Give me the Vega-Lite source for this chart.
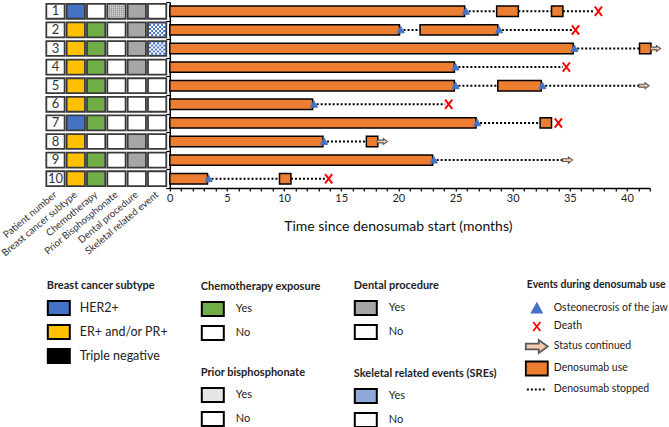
{
  "$schema": "https://vega.github.io/schema/vega-lite/v6.json",
  "padding": {"left": -1.7, "top": 1, "right": 0, "bottom": 0},
  "bounds": "flush",
  "spacing": 2.5,
  "config": {
    "font": "Lato",
    "view": {"stroke": null},
    "legend": {
      "direction": "vertical",
      "orient": "none",
      "symbolType": "M-1,-0.64H1V0.64H-1Z",
      "symbolSize": 484,
      "symbolStrokeColor": "black",
      "symbolStrokeWidth": 2,
      "titleFontSize": 11,
      "titleFontWeight": "bold",
      "titleColor": "#222",
      "titlePadding": 5,
      "labelFontSize": 11,
      "labelColor": "#222",
      "labelOffset": 11,
      "rowPadding": 0,
      "padding": 0,
      "labelLimit": 300
    }
  },
  "datasets": {
    "table": [
      {"patient": 1, "column": "Patient number", "value": "1"},
      {"patient": 2, "column": "Patient number", "value": "2"},
      {"patient": 3, "column": "Patient number", "value": "3"},
      {"patient": 4, "column": "Patient number", "value": "4"},
      {"patient": 5, "column": "Patient number", "value": "5"},
      {"patient": 6, "column": "Patient number", "value": "6"},
      {"patient": 7, "column": "Patient number", "value": "7"},
      {"patient": 8, "column": "Patient number", "value": "8"},
      {"patient": 9, "column": "Patient number", "value": "9"},
      {"patient": 10, "column": "Patient number", "value": "10"},
      {"patient": 1, "column": "Breast cancer subtype", "value": "HER2+"},
      {"patient": 2, "column": "Breast cancer subtype", "value": "ER+ and/or PR+"},
      {"patient": 3, "column": "Breast cancer subtype", "value": "ER+ and/or PR+"},
      {"patient": 4, "column": "Breast cancer subtype", "value": "ER+ and/or PR+"},
      {"patient": 5, "column": "Breast cancer subtype", "value": "ER+ and/or PR+"},
      {"patient": 6, "column": "Breast cancer subtype", "value": "ER+ and/or PR+"},
      {"patient": 7, "column": "Breast cancer subtype", "value": "HER2+"},
      {"patient": 8, "column": "Breast cancer subtype", "value": "ER+ and/or PR+"},
      {"patient": 9, "column": "Breast cancer subtype", "value": "ER+ and/or PR+"},
      {"patient": 10, "column": "Breast cancer subtype", "value": "ER+ and/or PR+"},
      {"patient": 1, "column": "Chemotherapy", "value": "No"},
      {"patient": 2, "column": "Chemotherapy", "value": "Yes"},
      {"patient": 3, "column": "Chemotherapy", "value": "Yes"},
      {"patient": 4, "column": "Chemotherapy", "value": "Yes"},
      {"patient": 5, "column": "Chemotherapy", "value": "Yes"},
      {"patient": 6, "column": "Chemotherapy", "value": "Yes"},
      {"patient": 7, "column": "Chemotherapy", "value": "Yes"},
      {"patient": 8, "column": "Chemotherapy", "value": "No"},
      {"patient": 9, "column": "Chemotherapy", "value": "Yes"},
      {"patient": 10, "column": "Chemotherapy", "value": "Yes"},
      {"patient": 1, "column": "Prior Bisphosphonate", "value": "Yes"},
      {"patient": 2, "column": "Prior Bisphosphonate", "value": "No"},
      {"patient": 3, "column": "Prior Bisphosphonate", "value": "No"},
      {"patient": 4, "column": "Prior Bisphosphonate", "value": "No"},
      {"patient": 5, "column": "Prior Bisphosphonate", "value": "No"},
      {"patient": 6, "column": "Prior Bisphosphonate", "value": "No"},
      {"patient": 7, "column": "Prior Bisphosphonate", "value": "No"},
      {"patient": 8, "column": "Prior Bisphosphonate", "value": "No"},
      {"patient": 9, "column": "Prior Bisphosphonate", "value": "No"},
      {"patient": 10, "column": "Prior Bisphosphonate", "value": "No"},
      {"patient": 1, "column": "Dental procedure", "value": "Yes"},
      {"patient": 2, "column": "Dental procedure", "value": "Yes"},
      {"patient": 3, "column": "Dental procedure", "value": "Yes"},
      {"patient": 4, "column": "Dental procedure", "value": "Yes"},
      {"patient": 5, "column": "Dental procedure", "value": "No"},
      {"patient": 6, "column": "Dental procedure", "value": "No"},
      {"patient": 7, "column": "Dental procedure", "value": "No"},
      {"patient": 8, "column": "Dental procedure", "value": "Yes"},
      {"patient": 9, "column": "Dental procedure", "value": "Yes"},
      {"patient": 10, "column": "Dental procedure", "value": "No"},
      {"patient": 1, "column": "Skeletal related event", "value": "No"},
      {"patient": 2, "column": "Skeletal related event", "value": "Yes"},
      {"patient": 3, "column": "Skeletal related event", "value": "Yes"},
      {"patient": 4, "column": "Skeletal related event", "value": "No"},
      {"patient": 5, "column": "Skeletal related event", "value": "No"},
      {"patient": 6, "column": "Skeletal related event", "value": "No"},
      {"patient": 7, "column": "Skeletal related event", "value": "No"},
      {"patient": 8, "column": "Skeletal related event", "value": "No"},
      {"patient": 9, "column": "Skeletal related event", "value": "No"},
      {"patient": 10, "column": "Skeletal related event", "value": "No"}
    ],
    "use": [
      {"patient": 1, "start": 0, "end": 25.8},
      {"patient": 1, "start": 28.6, "end": 30.5},
      {"patient": 1, "start": 33.4, "end": 34.4},
      {"patient": 2, "start": 0, "end": 20.1},
      {"patient": 2, "start": 21.9, "end": 28.7},
      {"patient": 3, "start": 0, "end": 35.3},
      {"patient": 3, "start": 41.1, "end": 42.1},
      {"patient": 4, "start": 0, "end": 24.9},
      {"patient": 5, "start": 0, "end": 24.9},
      {"patient": 5, "start": 28.7, "end": 32.5},
      {"patient": 6, "start": 0, "end": 12.5},
      {"patient": 7, "start": 0, "end": 26.8},
      {"patient": 7, "start": 32.4, "end": 33.4},
      {"patient": 8, "start": 0, "end": 13.4},
      {"patient": 8, "start": 17.2, "end": 18.2},
      {"patient": 9, "start": 0, "end": 23.0},
      {"patient": 10, "start": 0, "end": 3.3},
      {"patient": 10, "start": 9.6, "end": 10.6}
    ],
    "stopped": [
      {"patient": 1, "start": 25.8, "end": 28.6},
      {"patient": 1, "start": 30.5, "end": 33.4},
      {"patient": 1, "start": 34.4, "end": 37.2},
      {"patient": 2, "start": 20.1, "end": 21.9},
      {"patient": 2, "start": 28.7, "end": 35.2},
      {"patient": 3, "start": 35.3, "end": 41.1},
      {"patient": 4, "start": 24.9, "end": 34.4},
      {"patient": 5, "start": 24.9, "end": 28.7},
      {"patient": 5, "start": 32.5, "end": 41.1},
      {"patient": 6, "start": 12.5, "end": 24.1},
      {"patient": 7, "start": 26.8, "end": 32.4},
      {"patient": 8, "start": 13.4, "end": 17.2},
      {"patient": 9, "start": 23.0, "end": 34.4},
      {"patient": 10, "start": 3.3, "end": 9.6},
      {"patient": 10, "start": 10.6, "end": 13.6}
    ],
    "events": [
      {"patient": 1, "time": 25.9, "event": "Osteonecrosis of the jaw"},
      {"patient": 2, "time": 20.2, "event": "Osteonecrosis of the jaw"},
      {"patient": 2, "time": 28.8, "event": "Osteonecrosis of the jaw"},
      {"patient": 3, "time": 35.4, "event": "Osteonecrosis of the jaw"},
      {"patient": 4, "time": 25.0, "event": "Osteonecrosis of the jaw"},
      {"patient": 5, "time": 25.0, "event": "Osteonecrosis of the jaw"},
      {"patient": 5, "time": 32.6, "event": "Osteonecrosis of the jaw"},
      {"patient": 6, "time": 12.6, "event": "Osteonecrosis of the jaw"},
      {"patient": 7, "time": 26.9, "event": "Osteonecrosis of the jaw"},
      {"patient": 8, "time": 13.5, "event": "Osteonecrosis of the jaw"},
      {"patient": 9, "time": 23.1, "event": "Osteonecrosis of the jaw"},
      {"patient": 10, "time": 3.4, "event": "Osteonecrosis of the jaw"},
      {"patient": 1, "time": 37.5, "event": "Death"},
      {"patient": 2, "time": 35.5, "event": "Death"},
      {"patient": 4, "time": 34.7, "event": "Death"},
      {"patient": 6, "time": 24.4, "event": "Death"},
      {"patient": 7, "time": 34.0, "event": "Death"},
      {"patient": 10, "time": 13.9, "event": "Death"},
      {"patient": 3, "time": 42.5, "event": "Status continued"},
      {"patient": 5, "time": 41.5, "event": "Status continued"},
      {"patient": 8, "time": 18.6, "event": "Status continued"},
      {"patient": 9, "time": 34.8, "event": "Status continued"}
    ]
  },
  "hconcat": [
    {
      "width": 122,
      "height": 186,
      "data": {"name": "table"},
      "encoding": {
        "x": {
          "field": "column", "type": "nominal",
          "scale": {"domain": ["Patient number", "Breast cancer subtype", "Chemotherapy", "Prior Bisphosphonate", "Dental procedure", "Skeletal related event"], "paddingInner": 0.1, "paddingOuter": 0.05},
          "axis": {"orient": "bottom", "title": null, "domain": false, "ticks": false, "labelAngle": -40, "labelAlign": "right", "labelBaseline": "middle", "labelPadding": 5, "labelFontSize": 9.8, "labelColor": "#333", "labelOverlap": false}
        },
        "y": {"field": "patient", "type": "ordinal", "scale": {"paddingInner": 0.2, "paddingOuter": 0.1}, "axis": null}
      },
      "layer": [
        {
          "transform": [{"filter": "datum.column === 'Patient number'"}],
          "mark": {"type": "rect", "fill": "white", "stroke": "#3a3a3a", "strokeWidth": 1.8}
        },
        {
          "transform": [{"filter": "datum.column === 'Patient number'"}],
          "mark": {"type": "text", "fontSize": 13, "color": "#333"},
          "encoding": {"text": {"field": "value"}}
        },
        {
          "transform": [{"filter": "datum.column === 'Breast cancer subtype'"}],
          "mark": {"type": "rect", "stroke": "#3a3a3a", "strokeWidth": 1.8},
          "encoding": {"fill": {"field": "value", "type": "nominal",
            "scale": {"domain": ["HER2+", "ER+ and/or PR+", "Triple negative"], "range": ["#4472C4", "#FFC000", "#000000"]},
            "legend": {"title": "Breast cancer subtype", "legendX": 1.5, "legendY": 278, "labelFontSize": 12.5, "labelOffset": 9}}}
        },
        {
          "transform": [{"filter": "datum.column === 'Chemotherapy'"}],
          "mark": {"type": "rect", "stroke": "#3a3a3a", "strokeWidth": 1.8},
          "encoding": {"fill": {"field": "value", "type": "nominal",
            "scale": {"domain": ["Yes", "No"], "range": ["#70AD47", "#FFFFFF"]},
            "legend": {"title": "Chemotherapy exposure", "legendX": 155.5, "legendY": 279}}}
        },
        {
          "transform": [{"filter": "datum.column === 'Prior Bisphosphonate'"}],
          "mark": {"type": "rect", "stroke": "#3a3a3a", "strokeWidth": 1.8},
          "encoding": {"fill": {"field": "value", "type": "nominal",
            "scale": {"domain": ["Yes", "No"], "range": ["#E6E6E6", "#FFFFFF"]},
            "legend": {"title": "Prior bisphosphonate", "legendX": 155.5, "legendY": 365}}}
        },
        {
          "transform": [{"filter": "datum.column === 'Prior Bisphosphonate' && datum.value === 'Yes'"}],
          "mark": {"type": "point", "filled": false, "stroke": "#8c8c8c", "strokeWidth": 0.6, "size": 256, "opacity": 1,
            "shape": "M-0.875,-0.8V0.8M-0.625,-0.8V0.8M-0.375,-0.8V0.8M-0.125,-0.8V0.8M0.125,-0.8V0.8M0.375,-0.8V0.8M0.625,-0.8V0.8M0.875,-0.8V0.8M-1,-0.625H1M-1,-0.375H1M-1,-0.125H1M-1,0.125H1M-1,0.375H1M-1,0.625H1"}
        },
        {
          "transform": [{"filter": "datum.column === 'Dental procedure'"}],
          "mark": {"type": "rect", "stroke": "#3a3a3a", "strokeWidth": 1.8},
          "encoding": {"fill": {"field": "value", "type": "nominal",
            "scale": {"domain": ["Yes", "No"], "range": ["#A6A6A6", "#FFFFFF"]},
            "legend": {"title": "Dental procedure", "legendX": 308.5, "legendY": 278}}}
        },
        {
          "transform": [{"filter": "datum.column === 'Skeletal related event'"}],
          "mark": {"type": "rect", "stroke": "#3a3a3a", "strokeWidth": 1.8},
          "encoding": {"fill": {"field": "value", "type": "nominal",
            "scale": {"domain": ["Yes", "No"], "range": ["#8FA9DC", "#FFFFFF"]},
            "legend": {"title": "Skeletal related events (SREs)", "legendX": 308.5, "legendY": 366}}}
        },
        {
          "transform": [{"filter": "datum.column === 'Skeletal related event' && datum.value === 'Yes'"}],
          "mark": {"type": "point", "filled": true, "fill": "#4472C4", "strokeWidth": 0, "size": 256, "opacity": 1,
            "shape": "M-1,-0.75h0.25v0.25h-0.25zM-0.5,-0.75h0.25v0.25h-0.25zM0,-0.75h0.25v0.25h-0.25zM0.5,-0.75h0.25v0.25h-0.25zM-0.75,-0.5h0.25v0.25h-0.25zM-0.25,-0.5h0.25v0.25h-0.25zM0.25,-0.5h0.25v0.25h-0.25zM0.75,-0.5h0.25v0.25h-0.25zM-1,-0.25h0.25v0.25h-0.25zM-0.5,-0.25h0.25v0.25h-0.25zM0,-0.25h0.25v0.25h-0.25zM0.5,-0.25h0.25v0.25h-0.25zM-0.75,0h0.25v0.25h-0.25zM-0.25,0h0.25v0.25h-0.25zM0.25,0h0.25v0.25h-0.25zM0.75,0h0.25v0.25h-0.25zM-1,0.25h0.25v0.25h-0.25zM-0.5,0.25h0.25v0.25h-0.25zM0,0.25h0.25v0.25h-0.25zM0.5,0.25h0.25v0.25h-0.25zM-0.75,0.5h0.25v0.25h-0.25zM-0.25,0.5h0.25v0.25h-0.25zM0.25,0.5h0.25v0.25h-0.25zM0.75,0.5h0.25v0.25h-0.25z"}
        },
        {
          "transform": [{"filter": "datum.column === 'Skeletal related event' && datum.value === 'Yes'"}],
          "mark": {"type": "point", "filled": true, "fill": "#FFFFFF", "strokeWidth": 0, "size": 256, "opacity": 1,
            "shape": "M-0.75,-0.75h0.25v0.25h-0.25zM-0.25,-0.75h0.25v0.25h-0.25zM0.25,-0.75h0.25v0.25h-0.25zM0.75,-0.75h0.25v0.25h-0.25zM-1,-0.5h0.25v0.25h-0.25zM-0.5,-0.5h0.25v0.25h-0.25zM0,-0.5h0.25v0.25h-0.25zM0.5,-0.5h0.25v0.25h-0.25zM-0.75,-0.25h0.25v0.25h-0.25zM-0.25,-0.25h0.25v0.25h-0.25zM0.25,-0.25h0.25v0.25h-0.25zM0.75,-0.25h0.25v0.25h-0.25zM-1,0h0.25v0.25h-0.25zM-0.5,0h0.25v0.25h-0.25zM0,0h0.25v0.25h-0.25zM0.5,0h0.25v0.25h-0.25zM-0.75,0.25h0.25v0.25h-0.25zM-0.25,0.25h0.25v0.25h-0.25zM0.25,0.25h0.25v0.25h-0.25zM0.75,0.25h0.25v0.25h-0.25zM-1,0.5h0.25v0.25h-0.25zM-0.5,0.5h0.25v0.25h-0.25zM0,0.5h0.25v0.25h-0.25zM0.5,0.5h0.25v0.25h-0.25z"}
        }
      ],
      "resolve": {"scale": {"fill": "independent"}, "legend": {"fill": "independent"}}
    },
    {
      "width": 480,
      "height": 186,
      "encoding": {
        "y": {"field": "patient", "type": "ordinal", "scale": {"paddingInner": 0, "paddingOuter": 0},
          "axis": {"title": null, "labels": false, "tickBand": "extent", "domainColor": "black", "domainWidth": 1.5, "tickColor": "black", "tickSize": 4, "tickWidth": 1.2}}
      },
      "layer": [
        {
          "data": {"name": "stopped"},
          "mark": {"type": "rule", "strokeDash": [2, 2], "strokeWidth": 2, "color": "black"},
          "encoding": {
            "x": {"field": "start", "type": "quantitative", "scale": {"domain": [0, 42], "nice": false, "zero": false},
              "axis": {"orient": "bottom", "title": null, "labels": false, "values": [0,1,2,3,4,5,6,7,8,9,10,11,12,13,14,15,16,17,18,19,20,21,22,23,24,25,26,27,28,29,30,31,32,33,34,35,36,37,38,39,40,41,42],
                "tickSize": 3, "tickColor": "black", "tickWidth": 1.2, "domainColor": "black", "domainWidth": 1.5, "grid": false}},
            "x2": {"field": "end"}
          }
        },
        {
          "data": {"name": "use"},
          "mark": {"type": "bar", "height": {"band": 0.56}, "fill": "#ED7D31", "stroke": "black", "strokeWidth": 1.5},
          "encoding": {
            "x": {"field": "start", "type": "quantitative",
              "axis": {"orient": "bottom", "title": "Time since denosumab start (months)", "values": [0, 5, 10, 15, 20, 25, 30, 35, 40],
                "domain": false, "ticks": false, "labelFlush": false, "labelOverlap": false,
                "labelFontSize": 11, "labelColor": "#222", "labelPadding": 4, "grid": false,
                "titleFontSize": 14, "titleFontWeight": "normal", "titleColor": "#111", "titlePadding": 17, "titleX": 228}},
            "x2": {"field": "end"}
          }
        },
        {
          "data": {"name": "events"},
          "transform": [{"filter": "datum.event === 'Osteonecrosis of the jaw'"}],
          "mark": {"type": "point", "filled": true, "strokeWidth": 1, "opacity": 1, "size": 170},
          "encoding": {
            "x": {"field": "time", "type": "quantitative", "axis": null},
            "shape": {"field": "event", "type": "nominal",
              "scale": {"domain": ["Osteonecrosis of the jaw", "Death", "Status continued", "Denosumab use", "Denosumab stopped"],
                "range": ["M0,-0.55L0.55,0.45L-0.55,0.45Z", "M-0.4,-0.5L0.4,0.5M0.4,-0.5L-0.4,0.5", "M-1.22,-0.33H0.22V-0.72L1.22,0L0.22,0.72V0.33H-1.22Z", "M-1.22,-0.78H1.22V0.78H-1.22Z", "M-1.1,0H-0.88M-0.66,0H-0.44M-0.22,0H0M0.22,0H0.44M0.66,0H0.88"]},
              "legend": {"title": "Events during denosumab use", "legendX": 481.5, "legendY": 278, "symbolSize": 324, "symbolStrokeWidth": 1.8, "labelOffset": 7, "labelFontSize": 10.5, "titleFontSize": 10.5, "titlePadding": 8, "encode": {"symbols": {"update": {"size": {"value": 324}, "strokeWidth": {"value": 1.8}}}}}},
            "fill": {"field": "event", "type": "nominal",
              "scale": {"domain": ["Osteonecrosis of the jaw", "Death", "Status continued", "Denosumab use", "Denosumab stopped"],
                "range": ["#4472C4", "transparent", "#F8CBAD", "#ED7D31", "transparent"]},
              "legend": {"title": "Events during denosumab use", "legendX": 481.5, "legendY": 278, "symbolSize": 324, "symbolStrokeWidth": 1.8, "labelOffset": 7, "labelFontSize": 10.5, "titleFontSize": 10.5, "titlePadding": 8, "encode": {"symbols": {"update": {"size": {"value": 324}, "strokeWidth": {"value": 1.8}}}}}},
            "stroke": {"field": "event", "type": "nominal",
              "scale": {"domain": ["Osteonecrosis of the jaw", "Death", "Status continued", "Denosumab use", "Denosumab stopped"],
                "range": ["#4472C4", "#FF0000", "#595959", "#000000", "#000000"]},
              "legend": {"title": "Events during denosumab use", "legendX": 481.5, "legendY": 278, "symbolSize": 324, "symbolStrokeWidth": 1.8, "labelOffset": 7, "labelFontSize": 10.5, "titleFontSize": 10.5, "titlePadding": 8, "encode": {"symbols": {"update": {"size": {"value": 324}, "strokeWidth": {"value": 1.8}}}}}}
          }
        },
        {
          "data": {"name": "events"},
          "transform": [{"filter": "datum.event === 'Death'"}],
          "mark": {"type": "point", "filled": false, "stroke": "#FF0000", "strokeWidth": 2, "opacity": 1, "size": 420,
            "shape": "M-0.35,-0.45L0.35,0.45M0.35,-0.45L-0.35,0.45"},
          "encoding": {"x": {"field": "time", "type": "quantitative", "axis": null}}
        },
        {
          "data": {"name": "events"},
          "transform": [{"filter": "datum.event === 'Status continued'"}],
          "mark": {"type": "point", "filled": true, "fill": "#F8CBAD", "stroke": "#595959", "strokeWidth": 1.1, "opacity": 1, "size": 85,
            "shape": "M-1.1,-0.3H0.2V-0.65L1.1,0L0.2,0.65V0.3H-1.1Z"},
          "encoding": {"x": {"field": "time", "type": "quantitative", "axis": null}}
        }
      ],
      "resolve": {"axis": {"x": "independent"}}
    }
  ]
}
